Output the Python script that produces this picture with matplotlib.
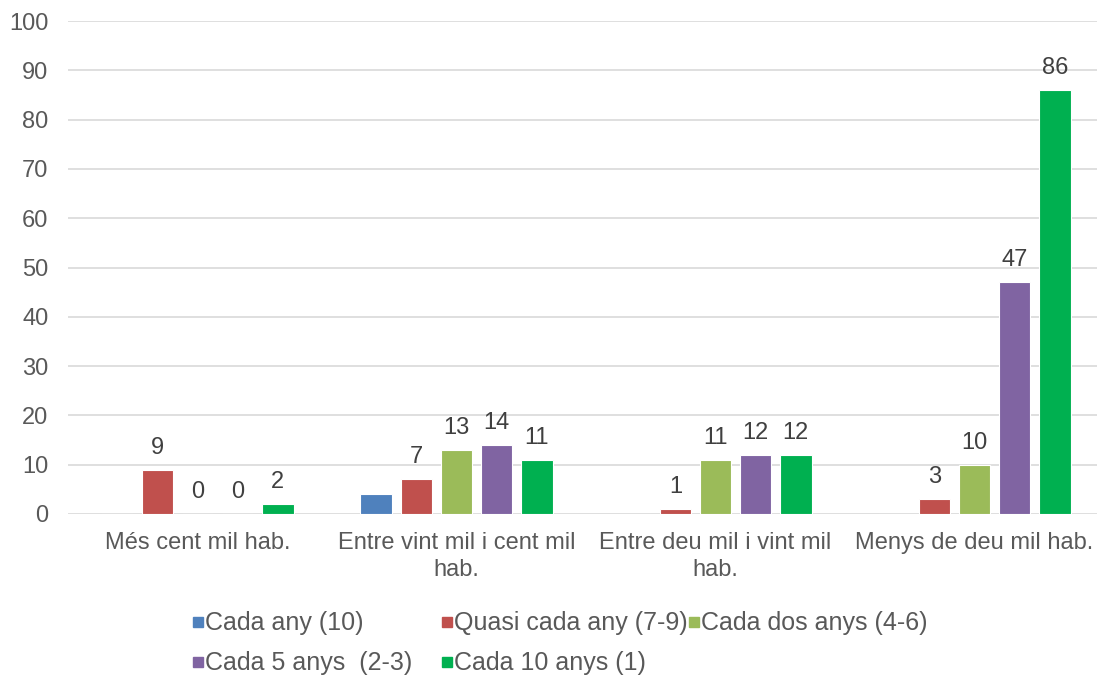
import matplotlib
matplotlib.use("Agg")
import matplotlib.pyplot as plt
import numpy as np
from matplotlib.patches import Rectangle

plt.rcParams['font.family'] = ['Liberation Sans', 'DejaVu Sans']

categories = ["Més cent mil hab.", "Entre vint mil i cent mil\nhab.",
              "Entre deu mil i vint mil\nhab.", "Menys de deu mil hab."]
series_names = ["Cada any (10)", "Quasi cada any (7-9)", "Cada dos anys (4-6)",
                "Cada 5 anys  (2-3)", "Cada 10 anys (1)"]
cada_any = [np.nan, 4, np.nan, np.nan]
quasi_cada_any = [9, 7, 1, 3]
cada_dos_anys = [0, 13, 11, 10]
cada_5_anys = [0, 14, 12, 47]
cada_10_anys = [2, 11, 12, 86]
series_values = [cada_any, quasi_cada_any, cada_dos_anys, cada_5_anys, cada_10_anys]
show_labels = [False, True, True, True, True]
colors = ["#4F81BD", "#C0504D", "#9BBB59", "#8064A2", "#00B050"]
yticks = list(range(0, 101, 10))

W, H = 1097, 675
FS = 17
fig = plt.figure(figsize=(W / 100, H / 100), dpi=100)
ax = fig.add_axes([68 / W, 1 - 514 / H, (1104 - 68) / W, (514 - 21) / H])

x = np.arange(len(categories))
step = 0.155
bw = 0.122
for i, (vals, c) in enumerate(zip(series_values, colors)):
    pos = x + (i - 2) * step
    v = np.array(vals, dtype=float)
    ax.bar(pos, np.nan_to_num(v), width=bw, color=c, edgecolor='white', linewidth=0.8, zorder=3)
    if show_labels[i]:
        for px, val in zip(pos, v):
            if not np.isnan(val):
                ax.annotate(f"{int(val)}", (px, val), xytext=(0, 8), textcoords='offset points',
                            ha='center', va='bottom', fontsize=FS, color='#404040')

ax.set_xlim(-0.5, len(categories) - 0.5)
ax.set_ylim(0, 100)
ax.set_yticks(yticks)
ax.set_yticklabels([str(t) for t in yticks])
ax.set_xticks(x)
ax.set_xticklabels(categories, linespacing=1.3)
ax.grid(axis='y', color='#D9D9D9', linewidth=1.2, zorder=0)
for s in ax.spines.values():
    s.set_visible(False)
ax.tick_params(axis='both', length=0, labelsize=FS, colors='#595959')
ax.tick_params(axis='y', pad=14)
ax.tick_params(axis='x', pad=13)

# legend (manual layout)
leg_pos = [(198, 622), (447, 622), (694, 622), (198, 662), (447, 662)]
for (lx, ly), name, c in zip(leg_pos, series_names, colors):
    fig.patches.append(Rectangle(((lx - 5) / W, 1 - (ly + 5) / H), 10 / W, 10 / H,
                                 transform=fig.transFigure, color=c, figure=fig))
    fig.text((lx + 7) / W, 1 - (ly + 1) / H, name, fontsize=18, color='#595959', va='center', ha='left')

fig.savefig("out.png", dpi=100)
